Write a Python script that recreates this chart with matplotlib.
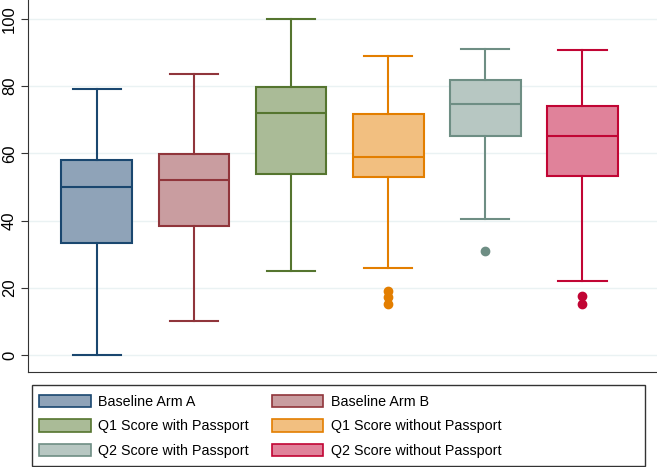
import matplotlib.pyplot as plt
from matplotlib.patches import Patch, Rectangle

plt.rcParams['font.family'] = ['Liberation Sans', 'DejaVu Sans']

labels = ["Baseline Arm A", "Baseline Arm B", "Q1 Score with Passport",
          "Q1 Score without Passport", "Q2 Score with Passport", "Q2 Score without Passport"]
whislo = [0, 10, 25, 26, 40.5, 22]
q1 = [33.2, 38.3, 53.8, 53, 65.2, 53.3]
med = [50, 52, 72, 59, 74.6, 65.2]
q3 = [58, 59.8, 79.8, 71.8, 81.8, 74]
whishi = [79, 83.5, 100, 89, 91, 90.6]
fliers = [[], [], [], [19, 17.2, 15.3], [31], [17.6, 15.2]]

edge = ["#1a476f", "#90353b", "#55752f", "#e37e00", "#6e8e84", "#c10534"]
fill = ["#8fa3b8", "#c99da0", "#aabb97", "#f2bf80", "#b7c7c2", "#e0829a"]

stats = []
for i in range(len(labels)):
    stats.append(dict(whislo=whislo[i], q1=q1[i], med=med[i], q3=q3[i],
                      whishi=whishi[i], fliers=fliers[i], label=labels[i]))

fig = plt.figure(figsize=(6.57, 4.67), dpi=100)
ax = fig.add_axes([28/657, 95/467, 1 - 28/657, 372/467])

pos = list(range(1, len(labels) + 1))
for i in range(len(labels)):
    ax.bxp([stats[i]], positions=[pos[i]], widths=0.73, patch_artist=True,
           showfliers=True,
           boxprops=dict(facecolor=fill[i], edgecolor=edge[i], linewidth=1.5),
           medianprops=dict(color=edge[i], linewidth=1.5),
           whiskerprops=dict(color=edge[i], linewidth=1.5),
           capprops=dict(color=edge[i], linewidth=1.5),
           capwidths=0.5,
           flierprops=dict(marker='o', markerfacecolor=edge[i], markeredgecolor=edge[i],
                           markersize=6))

ax.set_xlim(0.29, 6.77)
ax.set_ylim(-5.06, 105.6)
ax.set_yticks([0, 20, 40, 60, 80, 100])
ax.set_xticks([])
ax.yaxis.grid(True, color="#eaf2f3", linewidth=1)
ax.set_axisbelow(True)
for s in ["top", "right"]:
    ax.spines[s].set_visible(False)
for s in ["left", "bottom"]:
    ax.spines[s].set_color("#333333")
ax.tick_params(axis='y', labelsize=12, length=5, color="#333333", pad=3)
for t in ax.get_yticklabels():
    t.set_rotation(90)
    t.set_va('center')

# legend frame spans the full width, entries are not expanded
fig.patches.append(Rectangle((32/657, 1/467), 613/657, 81/467, transform=fig.transFigure,
                             facecolor="white", edgecolor="#333333", linewidth=1))
handles = [Patch(facecolor=fill[i], edgecolor=edge[i], linewidth=1.2) for i in range(len(labels))]
order = [0, 2, 4, 1, 3, 5]
leg = fig.legend([handles[j] for j in order], [labels[j] for j in order], ncol=2,
                 loc="upper left", bbox_to_anchor=(39/657, 1 - 395/467),
                 fontsize=10.3, handlelength=3.6, handleheight=0.95,
                 labelspacing=0.72, borderaxespad=0, borderpad=0, frameon=False,
                 handletextpad=0.55, columnspacing=1.6)

fig.savefig("out.png", dpi=100)
